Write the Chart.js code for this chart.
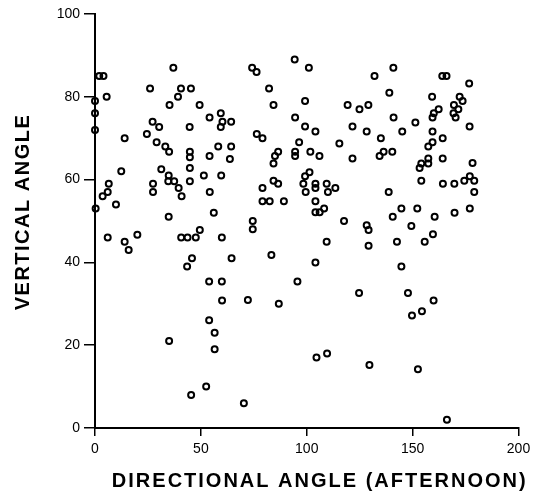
<!DOCTYPE html>
<html lang="en">

<head>
	<meta charset="UTF-8">
	<title>Vertical vs directional angle (afternoon)</title>
	<script src="https://cdn.jsdelivr.net/npm/chart.js"></script>
	<style>
		body {
			margin: 0;
			background: #fff;
		}
	</style>
</head>

<body>
	<canvas id="angleChart" width="542" height="501"></canvas>

	<script>
		// values
		const xValues = [
			2, 4, 5.5, 0, 0, 0, 14, 37, 26, 40.6, 45.3, 39.2, 35.2, 49.4, 54.1, 59.4, 60.2, 64.3, 59.4, 27.2,
			30.3, 44.7, 24.5, 29.1, 33.2, 35, 44.8, 44.8, 54.1, 58.2, 64.3, 63.7, 0.3, 3.6, 6, 6.5, 9.9, 12.4, 6, 14,
			15.9, 20, 27.4, 27.4, 31.3, 34.8, 34.6, 37.4, 39.5, 40.9, 34.8, 44.8, 44.8, 51.4, 59.6, 54.2, 56.1, 40.7, 43.7, 47.6,
			49.5, 59.9, 45.8, 43.5, 64.5, 53.9, 59.9, 60, 53.9, 56.5, 56.5, 35, 52.5, 45.4, 74.2, 76.3, 94.3, 101, 132, 82.2,
			84.3, 99.2, 119.3, 124.9, 129.1, 94.5, 99.2, 104.1, 121.6, 128.3, 76.4, 79.1, 96.4, 115.4, 86.5, 85, 94.5, 94.5, 101.7, 106,
			121.6, 135, 134.4, 84.3, 79.1, 84.3, 86.5, 79.1, 82.5, 89.2, 101.3, 99.2, 98.4, 104.1, 104.1, 99.5, 109.4, 110, 113.5, 104.1,
			104.1, 106.1, 108.2, 117.6, 128.3, 129.2, 129.2, 74.5, 74.5, 109.4, 83.3, 104.1, 95.6, 124.7, 72.2, 86.8, 104.6, 109.6, 129.6, 70.3,
			140.9, 164, 166, 176.7, 139, 159.2, 172.2, 173.6, 169.5, 171.6, 162.3, 160, 159.4, 169.3, 170.3, 141, 151.3, 176.9, 145.1, 159.4,
			164.2, 159.4, 157.4, 136.3, 140.4, 157.4, 164.2, 154.1, 157.4, 153.3, 178.3, 177, 174.4, 179.1, 164.3, 169.7, 154.1, 179.1, 138.7, 144.7,
			152.2, 140.6, 160.4, 169.8, 177, 149.4, 159.6, 142.6, 155.7, 144.7, 147.8, 159.9, 149.7, 154.4, 152.5, 166.2
		];
		const yValues = [
			85, 85, 80, 79, 76, 72, 70, 87, 82, 82, 82, 80, 78, 78, 75, 76, 74, 74, 72.7, 74,
			72.7, 72.7, 71, 69, 68, 66.7, 66.7, 65.4, 65.7, 68, 68, 65, 53, 56, 57, 59, 54, 62, 46, 45,
			43, 46.7, 59, 57, 62.5, 61, 59.6, 59.6, 58, 56, 51, 62.8, 59.6, 61, 61, 57, 52, 46, 46, 46,
			47.8, 46, 41, 39, 41, 35.4, 35.4, 30.8, 26, 23, 19, 21, 10, 8, 87, 86, 89, 87, 85, 82,
			78, 79, 78, 77, 78, 75, 72.8, 71.6, 72.8, 71.6, 71, 70, 69, 68.7, 66.7, 65.7, 66.7, 65.7, 66.7, 65.7,
			65.1, 70, 65.7, 63.9, 58, 59.7, 59, 54.8, 54.8, 54.8, 61.8, 60.8, 59, 59, 58, 57, 59, 57, 58, 54.8,
			52.1, 52.1, 53, 50, 49, 47.8, 44, 50, 48, 45, 41.8, 40, 35.4, 32.6, 30.9, 30, 17, 18, 15.2, 6,
			87, 85, 85, 83.2, 81, 80, 80, 79, 78, 77, 77, 76, 75, 76, 75, 75, 73.8, 72.8, 71.6, 71.6,
			70, 69, 68, 66.7, 66.7, 65.1, 65.1, 63.9, 63.9, 62.8, 64, 60.8, 59.7, 59.7, 59, 59, 59.7, 57, 57, 53,
			53, 51, 51, 52, 53, 48.8, 46.8, 45, 45, 39, 32.6, 30.8, 27.2, 28.2, 14.2, 2
		];
		const xTicks = [0, 50, 100, 150, 200];
		const yTicks = [0, 20, 40, 60, 80, 100];
		const xTitle = 'DIRECTIONAL ANGLE (AFTERNOON)';
		const yTitle = 'VERTICAL ANGLE';

		const points = xValues.map((x, i) => ({ x: x, y: yValues[i] }));
		const fontFamily = '"Liberation Sans", Arial, Helvetica, sans-serif';

		// bold, letter-spaced axis titles like the printed figure
		const axisTitles = {
			id: 'axisTitles',
			afterDraw(chart) {
				const ctx = chart.ctx;
				const area = chart.chartArea;
				ctx.save();
				ctx.fillStyle = '#000';
				ctx.font = 'bold 20px ' + fontFamily;
				ctx.textAlign = 'center';
				ctx.textBaseline = 'middle';
				ctx.letterSpacing = '2px';
				ctx.fillText(xTitle, (area.left + area.right) / 2 + 13, 481);
				ctx.letterSpacing = '1.5px';
				ctx.translate(23, (area.top + area.bottom) / 2 - 9);
				ctx.rotate(-Math.PI / 2);
				ctx.fillText(yTitle, 0, 0);
				ctx.restore();
			}
		};

		const ctx = document.getElementById('angleChart').getContext('2d');
		const angleChart = new Chart(ctx, {
			type: 'scatter',
			data: {
				datasets: [{
					data: points,
					pointRadius: 3,
					pointBorderWidth: 2,
					pointBorderColor: '#000',
					pointBackgroundColor: 'rgba(0,0,0,0)',
					clip: false
				}]
			},
			options: {
				responsive: false,
				animation: false,
				events: [],
				layout: {
					padding: { top: 14, right: 23.5, left: 0, bottom: 0 }
				},
				plugins: {
					legend: { display: false },
					tooltip: { enabled: false }
				},
				scales: {
					x: {
						type: 'linear',
						min: 0,
						max: 200,
						afterFit: function (scale) { scale.height = 73; },
						afterBuildTicks: function (scale) {
							scale.ticks = xTicks.map(v => ({ value: v }));
						},
						border: { display: true, color: '#000', width: 2 },
						grid: {
							drawOnChartArea: false,
							drawTicks: true,
							tickLength: 8,
							color: '#000',
							lineWidth: 1.5
						},
						ticks: {
							color: '#000',
							padding: 5,
							maxRotation: 0,
							font: { family: fontFamily, size: 14 }
						}
					},
					y: {
						type: 'linear',
						min: 0,
						max: 100,
						afterFit: function (scale) { scale.width = 95; },
						afterBuildTicks: function (scale) {
							scale.ticks = yTicks.map(v => ({ value: v }));
						},
						border: { display: true, color: '#000', width: 2 },
						grid: {
							drawOnChartArea: false,
							drawTicks: true,
							tickLength: 11,
							color: '#000',
							lineWidth: 1.5
						},
						ticks: {
							color: '#000',
							padding: 4,
							font: { family: fontFamily, size: 14 }
						}
					}
				}
			},
			plugins: [axisTitles]
		});
	</script>
</body>

</html>
